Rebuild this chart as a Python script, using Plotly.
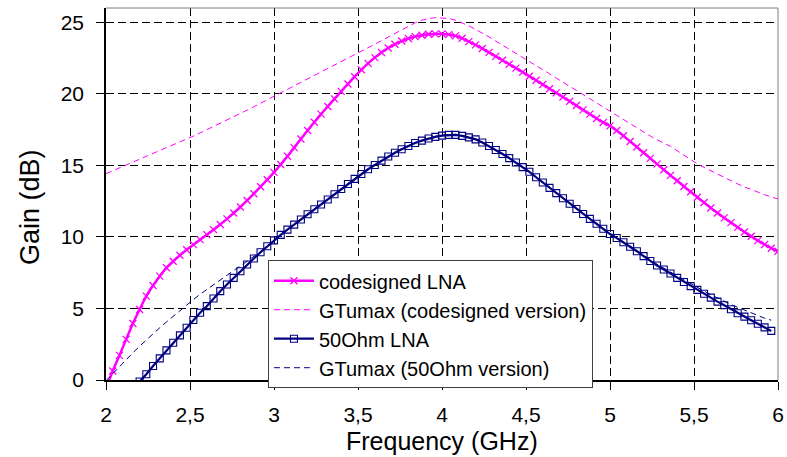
import plotly.graph_objects as go

# Frequency grid (GHz)
freq = [
    2.00, 2.04, 2.08, 2.12, 2.16, 2.20, 2.24, 2.28, 2.32, 2.36, 2.40, 2.44, 2.48, 2.52, 2.56, 2.60, 2.64, 2.68, 2.72, 2.76, 2.80, 2.84, 2.88, 2.92, 2.96,
    3.00, 3.04, 3.08, 3.12, 3.16, 3.20, 3.24, 3.28, 3.32, 3.36, 3.40, 3.44, 3.48, 3.52, 3.56, 3.60, 3.64, 3.68, 3.72, 3.76, 3.80, 3.84, 3.88, 3.92, 3.96,
    4.00, 4.04, 4.08, 4.12, 4.16, 4.20, 4.24, 4.28, 4.32, 4.36, 4.40, 4.44, 4.48, 4.52, 4.56, 4.60, 4.64, 4.68, 4.72, 4.76, 4.80, 4.84, 4.88, 4.92, 4.96,
    5.00, 5.04, 5.08, 5.12, 5.16, 5.20, 5.24, 5.28, 5.32, 5.36, 5.40, 5.44, 5.48, 5.52, 5.56, 5.60, 5.64, 5.68, 5.72, 5.76, 5.80, 5.84, 5.88, 5.92, 5.96,
    6.00,
]

# codesigned LNA gain (dB)
codesigned_lna = [
    -0.6, 0.63, 1.72, 2.84, 3.95, 4.93, 5.86, 6.60, 7.26, 7.84, 8.30, 8.72, 9.10, 9.46, 9.81, 10.16, 10.51, 10.87, 11.26, 11.67, 12.09, 12.55, 13.02, 13.51, 14.00,
    14.51, 15.06, 15.64, 16.24, 16.84, 17.44, 18.02, 18.58, 19.12, 19.65, 20.17, 20.69, 21.20, 21.68, 22.13, 22.53, 22.89, 23.20, 23.47, 23.69, 23.87, 24.00, 24.09, 24.16, 24.19,
    24.19, 24.14, 24.05, 23.88, 23.65, 23.42, 23.17, 22.90, 22.62, 22.35, 22.07, 21.80, 21.52, 21.23, 20.95, 20.65, 20.36, 20.07, 19.78, 19.48, 19.18, 18.88, 18.58, 18.28, 18.00,
    17.76, 17.44, 17.07, 16.67, 16.28, 15.88, 15.49, 15.09, 14.70, 14.30, 13.93, 13.53, 13.16, 12.77, 12.40, 12.02, 11.67, 11.33, 11.00, 10.67, 10.35, 10.05, 9.74, 9.47, 9.21,
    9.00,
]

# GTumax (codesigned version) (dB)
gtumax_codesigned = [
    14.42, 14.62, 14.82, 15.01, 15.21, 15.41, 15.61, 15.81, 16.01, 16.21, 16.42, 16.63, 16.84, 17.05, 17.27, 17.49, 17.71, 17.94, 18.17, 18.40, 18.63, 18.86, 19.10, 19.34, 19.58,
    19.83, 20.06, 20.30, 20.55, 20.79, 21.04, 21.28, 21.52, 21.76, 21.99, 22.23, 22.48, 22.73, 22.97, 23.22, 23.47, 23.72, 23.97, 24.22, 24.46, 24.72, 24.96, 25.15, 25.27, 25.32,
    25.32, 25.27, 25.15, 24.97, 24.75, 24.50, 24.25, 23.98, 23.69, 23.41, 23.13, 22.86, 22.58, 22.29, 22.00, 21.70, 21.40, 21.10, 20.80, 20.50, 20.20, 19.93, 19.66, 19.37, 19.08,
    18.79, 18.49, 18.18, 17.88, 17.60, 17.32, 17.05, 16.79, 16.56, 16.33, 16.02, 15.70, 15.39, 15.10, 14.86, 14.62, 14.40, 14.16, 13.92, 13.70, 13.50, 13.31, 13.12, 12.95, 12.80,
    12.65,
]

# 50Ohm LNA gain (dB)
ohm50_lna = [
    None, None, None, None, None, -0.10, 0.40, 0.98, 1.51, 2.07, 2.60, 3.12, 3.65, 4.19, 4.70, 5.16, 5.70, 6.21, 6.67, 7.14, 7.60, 8.07, 8.49, 8.93, 9.35,
    9.76, 10.14, 10.51, 10.86, 11.22, 11.58, 11.93, 12.27, 12.62, 12.98, 13.35, 13.70, 14.06, 14.40, 14.73, 15.03, 15.33, 15.62, 15.88, 16.13, 16.36, 16.56, 16.73, 16.88, 16.99,
    17.08, 17.13, 17.13, 17.06, 16.96, 16.82, 16.60, 16.35, 16.08, 15.80, 15.51, 15.20, 14.88, 14.55, 14.17, 13.80, 13.43, 13.06, 12.70, 12.32, 11.95, 11.60, 11.26, 10.92, 10.57,
    10.20, 9.92, 9.63, 9.31, 9.00, 8.66, 8.32, 8.00, 7.72, 7.44, 7.14, 6.85, 6.56, 6.30, 6.03, 5.76, 5.48, 5.22, 4.95, 4.67, 4.43, 4.18, 3.93, 3.68, 3.43,
    None,
]

# GTumax (50Ohm version) (dB)
gtumax_50ohm = [
    -0.05, 0.45, 0.95, 1.43, 1.90, 2.36, 2.81, 3.24, 3.65, 4.06, 4.46, 4.86, 5.24, 5.62, 5.99, 6.33, 6.67, 7.00, 7.33, 7.66, 7.98, 8.30, 8.62, 8.98, 9.36,
    9.78, 10.17, 10.54, 10.90, 11.26, 11.62, 11.97, 12.31, 12.66, 13.02, 13.39, 13.74, 14.10, 14.44, 14.77, 15.07, 15.37, 15.66, 15.92, 16.17, 16.40, 16.60, 16.77, 16.92, 17.03,
    17.12, 17.17, 17.17, 17.10, 17.00, 16.86, 16.64, 16.39, 16.12, 15.84, 15.55, 15.24, 14.92, 14.59, 14.21, 13.84, 13.47, 13.10, 12.74, 12.36, 11.99, 11.64, 11.30, 10.96, 10.61,
    10.25, 9.97, 9.68, 9.37, 9.06, 8.73, 8.40, 8.09, 7.82, 7.55, 7.26, 6.98, 6.70, 6.46, 6.21, 5.96, 5.72, 5.50, 5.28, 5.08, 4.88, 4.68, 4.48, 4.32, 4.18,
    None,
]

series_names = [
    "codesigned LNA",
    "GTumax (codesigned version)",
    "50Ohm LNA",
    "GTumax (50Ohm version)",
]

MAGENTA = "#FF00FF"
NAVY = "#000080"
FONT = "Liberation Sans, Arial, sans-serif"

fig = go.Figure()

fig.add_trace(go.Scatter(
    x=freq, y=codesigned_lna, name=series_names[0], mode="lines+markers",
    line=dict(color=MAGENTA, width=2.5, shape="spline", smoothing=0.6),
    marker=dict(symbol="x-thin", size=7, color=MAGENTA, line=dict(color=MAGENTA, width=1.3)),
))
fig.add_trace(go.Scatter(
    x=freq, y=gtumax_codesigned, name=series_names[1], mode="lines",
    line=dict(color=MAGENTA, width=1, dash="6px,4px"),
))
fig.add_trace(go.Scatter(
    x=freq, y=ohm50_lna, name=series_names[2], mode="lines+markers",
    line=dict(color=NAVY, width=2.2),
    marker=dict(symbol="square-open", size=7, color=NAVY, line=dict(color=NAVY, width=1.1)),
))
fig.add_trace(go.Scatter(
    x=freq, y=gtumax_50ohm, name=series_names[3], mode="lines",
    line=dict(color=NAVY, width=1, dash="6px,4px"),
))

axis_common = dict(
    showgrid=True, gridcolor="#000000", gridwidth=1, griddash="8px,4px",
    zeroline=False, showline=True, linecolor="#000000", linewidth=1.5,
    ticks="outside", ticklen=8, tickcolor="#000000", tickwidth=1,
    tickfont=dict(family=FONT, size=21, color="#000000"),
    automargin=False,
)

fig.update_xaxes(range=[2, 6], dtick=0.5, tick0=2, ticklabelstandoff=7, **axis_common)
fig.update_yaxes(range=[0, 26], dtick=5, tick0=0, ticklabelstandoff=8, **axis_common)

fig.update_layout(
    width=787, height=457,
    margin=dict(l=106, r=9, t=8, b=77),
    paper_bgcolor="white", plot_bgcolor="white",
    separators=",.",
    font=dict(family=FONT, color="#000000"),
    showlegend=True,
    legend=dict(
        x=0.241, y=0.322, xanchor="left", yanchor="top",
        bgcolor="white", bordercolor="#404040", borderwidth=1,
        font=dict(family=FONT, size=20, color="#000000"),
        itemwidth=40, tracegroupgap=0,
    ),
    shapes=[
        dict(type="line", xref="paper", yref="paper", x0=0, x1=1, y0=1, y1=1,
             line=dict(color="#808080", width=1)),
        dict(type="line", xref="paper", yref="paper", x0=1, x1=1, y0=0, y1=1,
             line=dict(color="#808080", width=1)),
    ],
    annotations=[
        dict(text="Frequency (GHz)", xref="paper", yref="paper", x=0.5, y=-0.165,
             xanchor="center", yanchor="middle", showarrow=False,
             font=dict(family=FONT, size=25, color="#000000")),
        dict(text="Gain (dB)", xref="paper", yref="paper", x=-0.113, y=0.465,
             xanchor="center", yanchor="middle", showarrow=False, textangle=-90,
             font=dict(family=FONT, size=27, color="#000000")),
    ],
)

fig.write_html(
    "out.html",
    config={"displayModeBar": False},
    post_script="document.body.style.margin='0';document.body.style.padding='0';",
)
